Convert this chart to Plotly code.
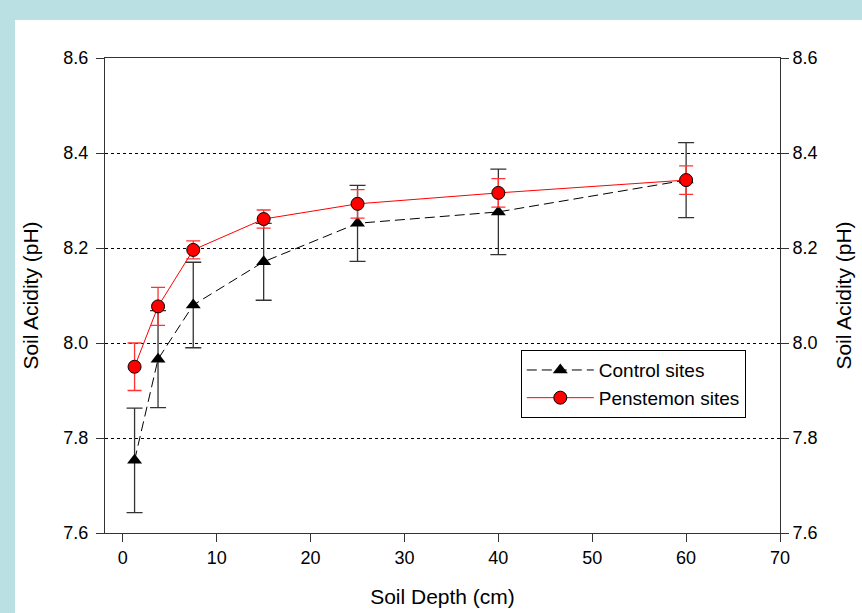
import plotly.graph_objects as go

depth = [1.25, 3.75, 7.5, 15, 25, 40, 60]
control_ph = [7.753, 7.966, 8.080, 8.171, 8.252, 8.276, 8.343]
control_err = [0.110, 0.102, 0.090, 0.081, 0.080, 0.090, 0.079]
penstemon_ph = [7.950, 8.077, 8.196, 8.261, 8.293, 8.316, 8.343]
penstemon_err = [0.050, 0.040, 0.019, 0.019, 0.030, 0.030, 0.030]

y_ticks = [7.6, 7.8, 8.0, 8.2, 8.4, 8.6]
x_ticks = [0, 10, 20, 30, 40, 50, 60, 70]

FONT = "Liberation Sans, Arial, sans-serif"

fig = go.Figure()

fig.add_trace(go.Scatter(
    x=depth, y=control_ph, name="Control sites", mode="lines+markers",
    line=dict(color="black", width=1, dash="10px,5px"),
    marker=dict(symbol="triangle-up", size=13, color="black"),
    error_y=dict(type="data", array=control_err, visible=True,
                 color="#333333", thickness=1.3, width=8),
))
fig.add_trace(go.Scatter(
    x=depth, y=penstemon_ph, name="Penstemon sites", mode="lines+markers",
    line=dict(color="red", width=1),
    marker=dict(symbol="circle", size=13, color="red",
                line=dict(color="black", width=1)),
    error_y=dict(type="data", array=penstemon_err, visible=True,
                 color="#ff3333", thickness=1.3, width=7),
))
# invisible trace to anchor the right-hand axis
fig.add_trace(go.Scatter(x=[depth[0]], y=[control_ph[0]], yaxis="y2",
                         mode="markers", marker=dict(opacity=0),
                         showlegend=False, hoverinfo="skip"))

axis_common = dict(
    range=[7.6, 8.6], tickvals=y_ticks, tickformat=".1f",
    ticks="outside", ticklen=8, tickcolor="#333333", tickwidth=1,
    showline=True, linecolor="#333333", linewidth=1,
    tickfont=dict(family=FONT, size=18, color="black"),
    title=dict(text="Soil Acidity (pH)", standoff=19,
               font=dict(family=FONT, size=21, color="black")),
    zeroline=False, automargin=False,
)

fig.update_layout(
    width=862, height=613,
    margin=dict(l=105, r=82, t=58, b=80),
    paper_bgcolor="#BAE0E3",
    plot_bgcolor="white",
    font=dict(family=FONT, color="black"),
    xaxis=dict(
        range=[-1.9, 70], tickvals=x_ticks,
        ticks="outside", ticklen=8, tickcolor="#333333",
        showline=True, linecolor="#333333", linewidth=1, mirror=True,
        showgrid=False, zeroline=False, automargin=False,
        tickfont=dict(family=FONT, size=18, color="black"),
        title=dict(text="Soil Depth (cm)", standoff=22,
                   font=dict(family=FONT, size=21, color="black")),
    ),
    yaxis=dict(**axis_common, showgrid=True, gridcolor="black",
               griddash="dot", gridwidth=1, side="left",
               ticklabelstandoff=4),
    yaxis2=dict(**axis_common, showgrid=False, overlaying="y", side="right",
                anchor="x"),
    legend=dict(
        x=0.616, y=0.385, xanchor="left", yanchor="top",
        bgcolor="white", bordercolor="black", borderwidth=1,
        font=dict(family=FONT, size=19, color="black"),
        tracegroupgap=0, itemwidth=67,
    ),
    shapes=[dict(type="rect", xref="paper", yref="paper",
                 x0=-0.1333, x1=1.2, y0=-0.3, y1=1.08,
                 fillcolor="white", line=dict(width=0), layer="below")],
)

fig.write_html("out.html", config={"displayModeBar": False},
               post_script="document.body.style.margin='0';")
